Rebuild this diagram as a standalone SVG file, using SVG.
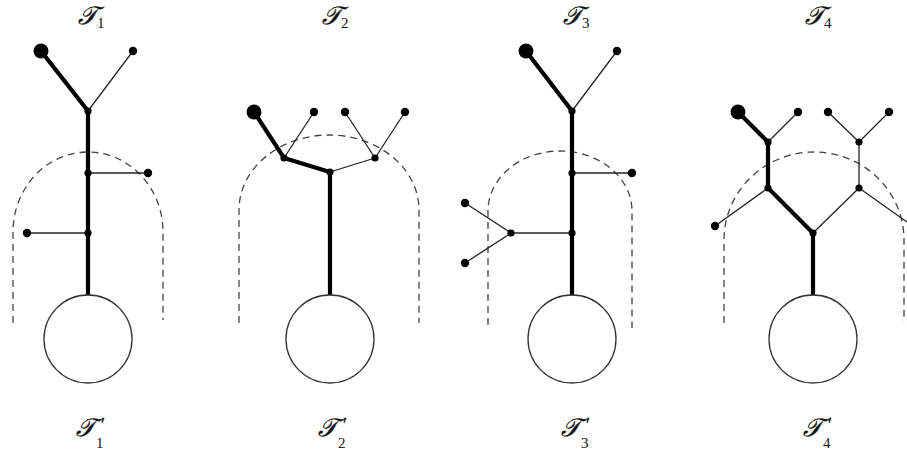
<svg xmlns="http://www.w3.org/2000/svg" width="907" height="450" viewBox="0 0 907 450">
<style>
  .bg { fill: #ffffff; }
  .thick { stroke: #000; stroke-width: 4.2; stroke-linecap: round; fill: none; }
  .thin { stroke: #222; stroke-width: 1.3; fill: none; }
  .region { stroke: #444; stroke-width: 1.3; stroke-dasharray: 7 5; fill: none; }
  .sub { fill: #fff; stroke: #333; stroke-width: 1.3; }
  .lbl { font-family: "DejaVu Serif", "Liberation Serif", serif; font-style: italic; font-size: 25px; fill: #111; stroke: #111; stroke-width: 0.4; }
  .idx { font-family: "Liberation Serif", serif; font-style: normal; font-size: 15px; stroke-width: 0; }
  .prime { font-family: "Liberation Serif", serif; font-style: normal; font-size: 18px; stroke-width: 0.4; }
</style>
<defs>
  <circle id="bigdot" r="7.5"/>
  <circle id="leafdot" r="4.2"/>
  <circle id="jointdot" r="3.6"/>
</defs>
<rect class="bg" x="0" y="0" width="907" height="450"/>

<g id="regions">
  <path class="region" d="M13 323 L13 232 A75 80 0 0 1 163 232 L163 320"/>
  <path class="region" d="M239 323 L239 210 A90 75 0 0 1 419 210 L419 323"/>
  <path class="region" d="M488 325 L488 211 A72 60 0 0 1 632 211 L632 328"/>
  <path class="region" d="M724 323 L724 240 A90 88 0 0 1 904 240 L904 322"/>
</g>

<g id="connectors">
  <!-- T1 -->
  <line class="thick" x1="41" y1="51" x2="88" y2="111"/>
  <line class="thick" x1="88" y1="111" x2="88" y2="295"/>
  <line class="thin" x1="133" y1="51" x2="88" y2="111"/>
  <line class="thin" x1="88" y1="173" x2="148" y2="173"/>
  <line class="thin" x1="88" y1="233" x2="27" y2="233"/>
  <!-- T2 -->
  <polyline class="thick" points="254,112 284,158 330,172 330,295"/>
  <line class="thin" x1="314" y1="112" x2="284" y2="158"/>
  <line class="thin" x1="345" y1="112" x2="375" y2="158"/>
  <line class="thin" x1="405" y1="112" x2="375" y2="158"/>
  <line class="thin" x1="375" y1="158" x2="330" y2="172"/>
  <!-- T3 -->
  <line class="thick" x1="526" y1="51" x2="572" y2="111"/>
  <line class="thick" x1="572" y1="111" x2="572" y2="295"/>
  <line class="thin" x1="617" y1="51" x2="572" y2="111"/>
  <line class="thin" x1="572" y1="173" x2="632" y2="173"/>
  <line class="thin" x1="572" y1="233" x2="511" y2="233"/>
  <line class="thin" x1="511" y1="233" x2="465" y2="203"/>
  <line class="thin" x1="511" y1="233" x2="465" y2="263"/>
  <!-- T4 -->
  <polyline class="thick" points="738,112 768,142 768,188 813,233 813,295"/>
  <line class="thin" x1="798" y1="112" x2="768" y2="142"/>
  <line class="thin" x1="828" y1="112" x2="859" y2="142"/>
  <line class="thin" x1="889" y1="112" x2="859" y2="142"/>
  <line class="thin" x1="859" y1="142" x2="859" y2="188"/>
  <line class="thin" x1="859" y1="188" x2="813" y2="233"/>
  <line class="thin" x1="768" y1="188" x2="715" y2="226"/>
  <line class="thin" x1="859" y1="188" x2="907" y2="222"/>
</g>

<!-- Tree 1 nodes -->
<g id="t1-root"><use href="#bigdot" x="41" y="51"/></g>
<g id="t1-leaf-a"><use href="#leafdot" x="133" y="51"/></g>
<g id="t1-j1"><use href="#jointdot" x="88" y="111"/></g>
<g id="t1-j2"><use href="#jointdot" x="88" y="173"/></g>
<g id="t1-leaf-b"><use href="#leafdot" x="148" y="173"/></g>
<g id="t1-j3"><use href="#jointdot" x="88" y="233"/></g>
<g id="t1-leaf-c"><use href="#leafdot" x="27" y="233"/></g>
<g id="t1-sub"><circle class="sub" cx="88" cy="339" r="44"/></g>

<!-- Tree 2 nodes -->
<g id="t2-root"><use href="#bigdot" x="254" y="112"/></g>
<g id="t2-leaf-a"><use href="#leafdot" x="314" y="112"/></g>
<g id="t2-leaf-b"><use href="#leafdot" x="345" y="112"/></g>
<g id="t2-leaf-c"><use href="#leafdot" x="405" y="112"/></g>
<g id="t2-j1"><use href="#jointdot" x="284" y="158"/></g>
<g id="t2-j2"><use href="#jointdot" x="375" y="158"/></g>
<g id="t2-j3"><use href="#jointdot" x="330" y="172"/></g>
<g id="t2-sub"><circle class="sub" cx="330" cy="339" r="44"/></g>

<!-- Tree 3 nodes -->
<g id="t3-root"><use href="#bigdot" x="526" y="51"/></g>
<g id="t3-leaf-a"><use href="#leafdot" x="617" y="51"/></g>
<g id="t3-j1"><use href="#jointdot" x="572" y="111"/></g>
<g id="t3-j2"><use href="#jointdot" x="572" y="173"/></g>
<g id="t3-leaf-b"><use href="#leafdot" x="632" y="173"/></g>
<g id="t3-j3"><use href="#jointdot" x="572" y="233"/></g>
<g id="t3-j4"><use href="#jointdot" x="511" y="233"/></g>
<g id="t3-leaf-c"><use href="#leafdot" x="465" y="203"/></g>
<g id="t3-leaf-d"><use href="#leafdot" x="465" y="263"/></g>
<g id="t3-sub"><circle class="sub" cx="572" cy="339" r="44"/></g>

<!-- Tree 4 nodes -->
<g id="t4-root"><use href="#bigdot" x="738" y="112"/></g>
<g id="t4-leaf-a"><use href="#leafdot" x="798" y="112"/></g>
<g id="t4-leaf-b"><use href="#leafdot" x="828" y="112"/></g>
<g id="t4-leaf-c"><use href="#leafdot" x="889" y="112"/></g>
<g id="t4-j1"><use href="#jointdot" x="768" y="142"/></g>
<g id="t4-j2"><use href="#jointdot" x="859" y="142"/></g>
<g id="t4-j3"><use href="#jointdot" x="768" y="188"/></g>
<g id="t4-j4"><use href="#jointdot" x="859" y="188"/></g>
<g id="t4-j5"><use href="#jointdot" x="813" y="233"/></g>
<g id="t4-leaf-d"><use href="#leafdot" x="715" y="226"/></g>
<g id="t4-sub"><circle class="sub" cx="813" cy="339" r="44"/></g>

<g id="labels">
  <text class="lbl" x="78" y="24">𝒯<tspan class="idx" x="97" y="28">1</tspan></text>
  <text class="lbl" x="322" y="24">𝒯<tspan class="idx" x="341" y="28">2</tspan></text>
  <text class="lbl" x="563" y="24">𝒯<tspan class="idx" x="582" y="28">3</tspan></text>
  <text class="lbl" x="805" y="24">𝒯<tspan class="idx" x="824" y="28">4</tspan></text>
  <text class="lbl" x="76" y="436">𝒯<tspan class="prime" x="101" y="431">′</tspan><tspan class="idx" x="96" y="448">1</tspan></text>
  <text class="lbl" x="318" y="436">𝒯<tspan class="prime" x="343" y="431">′</tspan><tspan class="idx" x="338" y="448">2</tspan></text>
  <text class="lbl" x="561" y="436">𝒯<tspan class="prime" x="586" y="431">′</tspan><tspan class="idx" x="581" y="448">3</tspan></text>
  <text class="lbl" x="803" y="436">𝒯<tspan class="prime" x="828" y="431">′</tspan><tspan class="idx" x="823" y="448">4</tspan></text>
</g>
</svg>
